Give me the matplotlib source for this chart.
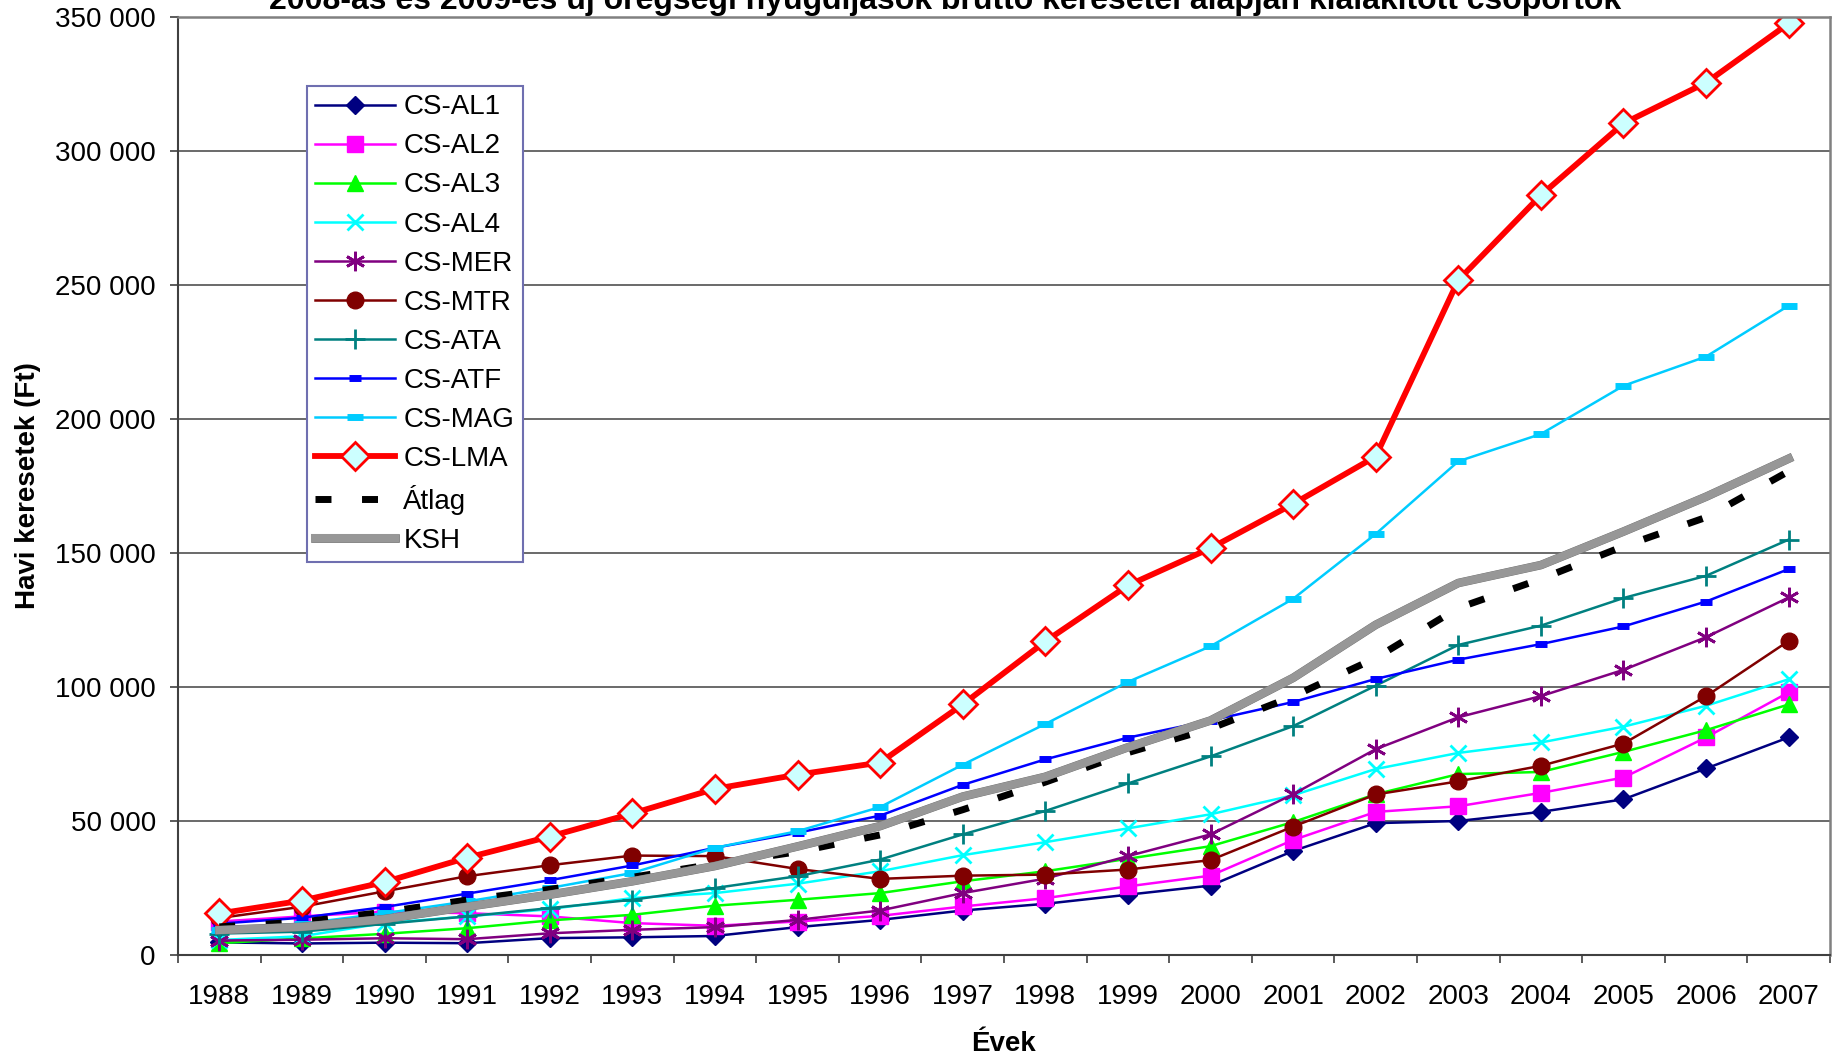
import matplotlib
matplotlib.use("Agg")
import matplotlib.pyplot as plt
import matplotlib.patheffects as pe
from matplotlib.ticker import FuncFormatter, FixedLocator

# data (Ft / month)
years = [str(y) for y in range(1988, 2008)]

al1 = [4700, 4300, 4600, 4400, 6300, 6600, 7100, 10400, 13100, 16600,
       19100, 22500, 25900, 38800, 49200, 50000, 53400, 58100, 69600, 81200]
al2 = [12500, 14400, 16200, 15600, 14400, 11900, 10900, 12500, 14600, 18100,
       21200, 25600, 29600, 42900, 53400, 55500, 60500, 66200, 81200, 98000]
al3 = [4400, 6200, 7900, 10000, 12900, 15000, 18400, 20600, 23100, 27500,
       31250, 35900, 40600, 49600, 60000, 67500, 68300, 75800, 83900, 93500]
al4 = [5600, 7000, 11900, 14400, 17100, 21250, 23100, 26600, 31250, 37250,
       42100, 47250, 52500, 59600, 69400, 75400, 79300, 85200, 93000, 102900]
mer = [5400, 5700, 6250, 5900, 8100, 9400, 10400, 13100, 16600, 23100,
       28500, 36900, 45000, 60000, 76800, 88700, 96600, 106400, 118600, 133400]
mtr = [13800, 18000, 23750, 29400, 33500, 37100, 36900, 32100, 28400, 29600,
       30000, 31900, 35400, 47900, 59900, 64800, 70600, 78900, 96600, 117200]
ata = [8000, 8700, 11600, 14400, 17500, 20600, 25000, 29400, 35600, 45000,
       53750, 64000, 74100, 85400, 100500, 115700, 122900, 133200, 141500, 155000]
atf = [11700, 13900, 17900, 22900, 27900, 33400, 40000, 45600, 52000, 63500,
       73000, 81100, 87500, 94400, 103000, 110200, 116000, 122600, 131900, 144000]
mag = [9400, 11700, 15600, 20000, 25000, 30600, 40000, 46200, 55200, 71000,
       86200, 101900, 115200, 132900, 157100, 184200, 194400, 212400, 223300, 242300]
lma = [15500, 20300, 27200, 36300, 44200, 52800, 62000, 67300, 71800, 93500,
       117000, 137900, 151800, 168300, 186000, 251800, 283500, 310300, 325500, 347600]
atlag = [10500, 12300, 16000, 20500, 24500, 29000, 34000, 38500, 44800, 54200,
         64500, 75500, 84500, 96500, 110800, 129500, 140300, 152500, 163300, 180500]
ksh = [9300, 10500, 13400, 18000, 22500, 27500, 33200, 40500, 48100, 59100,
       66500, 77500, 87500, 103400, 123200, 138800, 145500, 158000, 171000, 185200]

plt.rcParams['font.family'] = ['Liberation Sans', 'DejaVu Sans']
FS = 20

fig = plt.figure(figsize=(18.34, 10.59), dpi=100)
ax = fig.add_axes([178 / 1834, 1 - 955 / 1059, (1830 - 178) / 1834, (955 - 17) / 1059])

x = list(range(len(years)))

ax.plot(x, al1, color='#000080', lw=1.8, marker='D', ms=9, label='CS-AL1')
ax.plot(x, al2, color='#FF00FF', lw=1.8, marker='s', ms=11, label='CS-AL2')
ax.plot(x, al3, color='#00FF00', lw=1.8, marker='^', ms=12, label='CS-AL3')
ax.plot(x, al4, color='#00FFFF', lw=1.8, marker='x', ms=12, mew=2, label='CS-AL4')
ax.plot(x, mer, color='#800080', lw=1.8, marker=(6, 2, 0), ms=14, mew=2, label='CS-MER')
ax.plot(x, mtr, color='#800000', lw=1.8, marker='o', ms=12, label='CS-MTR')
ax.plot(x, ata, color='#008080', lw=1.8, marker='+', ms=15, mew=2, label='CS-ATA')
ax.plot(x, atf, color='#0000FF', lw=1.8, marker='_', ms=8, mew=5, label='CS-ATF')
ax.plot(x, mag, color='#00CCFF', lw=1.8, marker='_', ms=12, mew=5, label='CS-MAG')
ax.plot(x, lma, color='#FF0000', lw=4.2, marker='D', ms=14, mfc='#CCFFFF',
        mec='#FF0000', mew=2, label='CS-LMA')
ax.plot(x, atlag, color='black', lw=5, dashes=(2.3, 4.4), label='Átlag')
ax.plot(x, ksh, color='#979797', lw=5.8, label='KSH',
        path_effects=[pe.Stroke(linewidth=6.2, foreground='#6e6e6e'), pe.Normal()])

ax.set_xlim(-0.5, len(years) - 0.5)
ax.set_ylim(0, 350000)
ax.set_yticks(range(0, 350001, 50000))
ax.yaxis.set_major_formatter(FuncFormatter(lambda v, p: f"{int(v):,}".replace(",", " ")))
ax.set_xticks(x)
ax.set_xticklabels(years)
ax.xaxis.set_minor_locator(FixedLocator([i - 0.5 for i in range(len(years) + 1)]))
ax.tick_params(axis='x', which='major', length=0, pad=21, labelsize=FS)
ax.tick_params(axis='x', which='minor', length=6, width=1.2, color='#404040', direction='out')
ax.tick_params(axis='y', length=6, width=1.2, color='#404040', pad=10, labelsize=FS)

ax.grid(axis='y', color='#505050', lw=1.2)
ax.set_axisbelow(True)
for s in ['left', 'bottom']:
    ax.spines[s].set_color('#404040')
    ax.spines[s].set_linewidth(1.5)
for s in ['top', 'right']:
    ax.spines[s].set_color('#808080')
    ax.spines[s].set_linewidth(1.8)

ax.set_ylabel('Havi keresetek (Ft)', fontsize=FS, fontweight='bold', labelpad=10)
ax.set_xlabel('Évek', fontsize=FS, fontweight='bold', labelpad=15)
fig.text(945 / 1834, 1 - 9 / 1059,
         '2008-as és 2009-es új öregségi nyugdíjasok bruttó keresetei alapján kialakított csoportok',
         ha='center', va='baseline', fontsize=23, fontweight='bold')

leg = ax.legend(loc='upper left', bbox_to_anchor=(307 / 1834, 1 - 86 / 1059),
                bbox_transform=fig.transFigure, borderaxespad=0, fontsize=FS,
                numpoints=1, handlelength=2.85, handletextpad=0.32, labelspacing=0.47,
                borderpad=0.3, fancybox=False, framealpha=1)
leg.get_frame().set_edgecolor('#6f6fb0')
leg.get_frame().set_linewidth(1.5)

fig.savefig('out.png', dpi=100)
